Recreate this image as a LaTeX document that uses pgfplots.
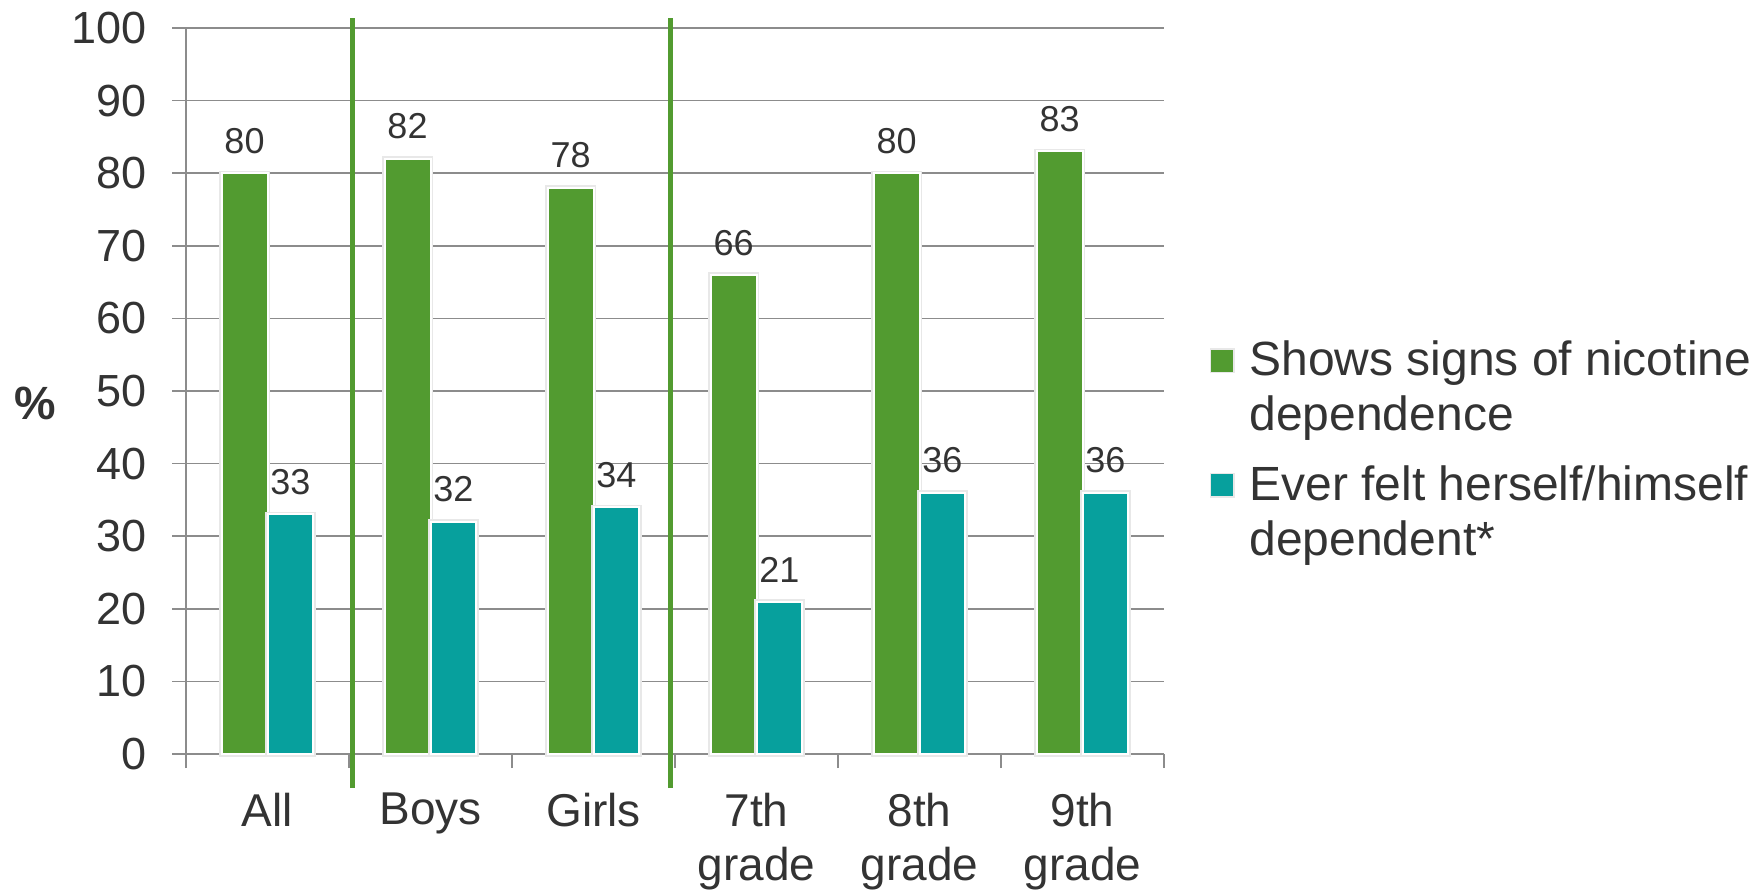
\documentclass[border=0pt]{standalone}
\usepackage{pgfplots}
\pgfplotsset{compat=1.18}
\usepackage{fontspec}
\setmainfont{Liberation Sans}

\definecolor{barGreen}{RGB}{82,155,48}
\definecolor{barTeal}{RGB}{7,160,157}
\definecolor{gridGray}{RGB}{140,140,140}
\definecolor{txt}{RGB}{51,51,51}

% nicotine dependence among pupils who smoke, by group (%)
\pgfplotstableread{
x  signs  felt
0  80     33
1  82     32
2  78     34
3  66     21
4  80     36
5  83     36
}\dependence

% legend swatch: a small square level with the first line of the entry
\newcommand{\swatch}[1]{\fill[#1] (0pt,5.25pt) rectangle (6pt,11.25pt); \path (8.4pt,8.25pt);}

\begin{document}
\begin{tikzpicture}
\path[use as bounding box] (-55.8pt,-41.7pt) rectangle (473.1pt,226.2pt);
\begin{axis}[
  scale only axis, width=293.4pt, height=217.8pt,
  xmin=-0.5, xmax=5.5, ymin=0, ymax=100,
  clip=false,
  axis x line=bottom, axis y line=left,
  axis line style={-, draw=gridGray, line width=0.5pt},
  ytick={0,10,...,100},
  ymajorgrids, grid style={draw=gridGray, line width=0.5pt},
  xtick={0,...,5},
  xticklabels={All,Boys,Girls,{7th\\grade},{8th\\grade},{9th\\grade}},
  minor xtick={-0.5,0.5,...,5.5},
  tick align=outside,
  major tick length=4.2pt, minor tick length=4.2pt,
  tick style={draw=gridGray, line width=0.5pt},
  major x tick style={draw=none},
  /pgf/number format/assume math mode=true,
  yticklabel style={font=\fontsize{13.5pt}{16pt}\selectfont, text=txt, xshift=-4pt},
  xticklabel style={font=\fontsize{13.8pt}{16.2pt}\selectfont, text=txt, align=center, yshift=-4pt},
  ylabel={\textbf{\%}},
  every axis y label/.style={at={(axis description cs:-0.1544,0.4835)}, anchor=center,
    font=\fontsize{14pt}{16pt}\selectfont, text=txt},
  ybar=0pt, bar width=0.282,
  every axis plot/.append style={draw=white, line width=0.6pt,
    preaction={draw=black!9, line width=1.5pt}},
  nodes near coords,
  every node near coord/.append style={font=\fontsize{10.8pt}{12pt}\selectfont,
    text=txt, anchor=south, yshift=2.2pt},
  legend style={draw=none, fill=none, at={(axis description cs:1.036,0.418)}, anchor=west,
    font=\fontsize{14.4pt}{16.5pt}\selectfont, text=txt, row sep=4.9pt},
  legend cell align=left,
  legend style={cells={align=left}},
]
\addplot[fill=barGreen, legend image code/.code={\swatch{barGreen}}]
  table[x=x, y=signs] {\dependence};
\addplot[fill=barTeal, legend image code/.code={\swatch{barTeal}}]
  table[x=x, y=felt] {\dependence};
\legend{Shows signs of nicotine\\dependence, Ever felt herself/himself\\dependent*}
\draw[barGreen, line width=1.6pt] (axis cs:0.523,-4.7) -- (axis cs:0.523,101.4);
\draw[barGreen, line width=1.6pt] (axis cs:2.472,-4.7) -- (axis cs:2.472,101.4);
\end{axis}
\end{tikzpicture}
\end{document}
